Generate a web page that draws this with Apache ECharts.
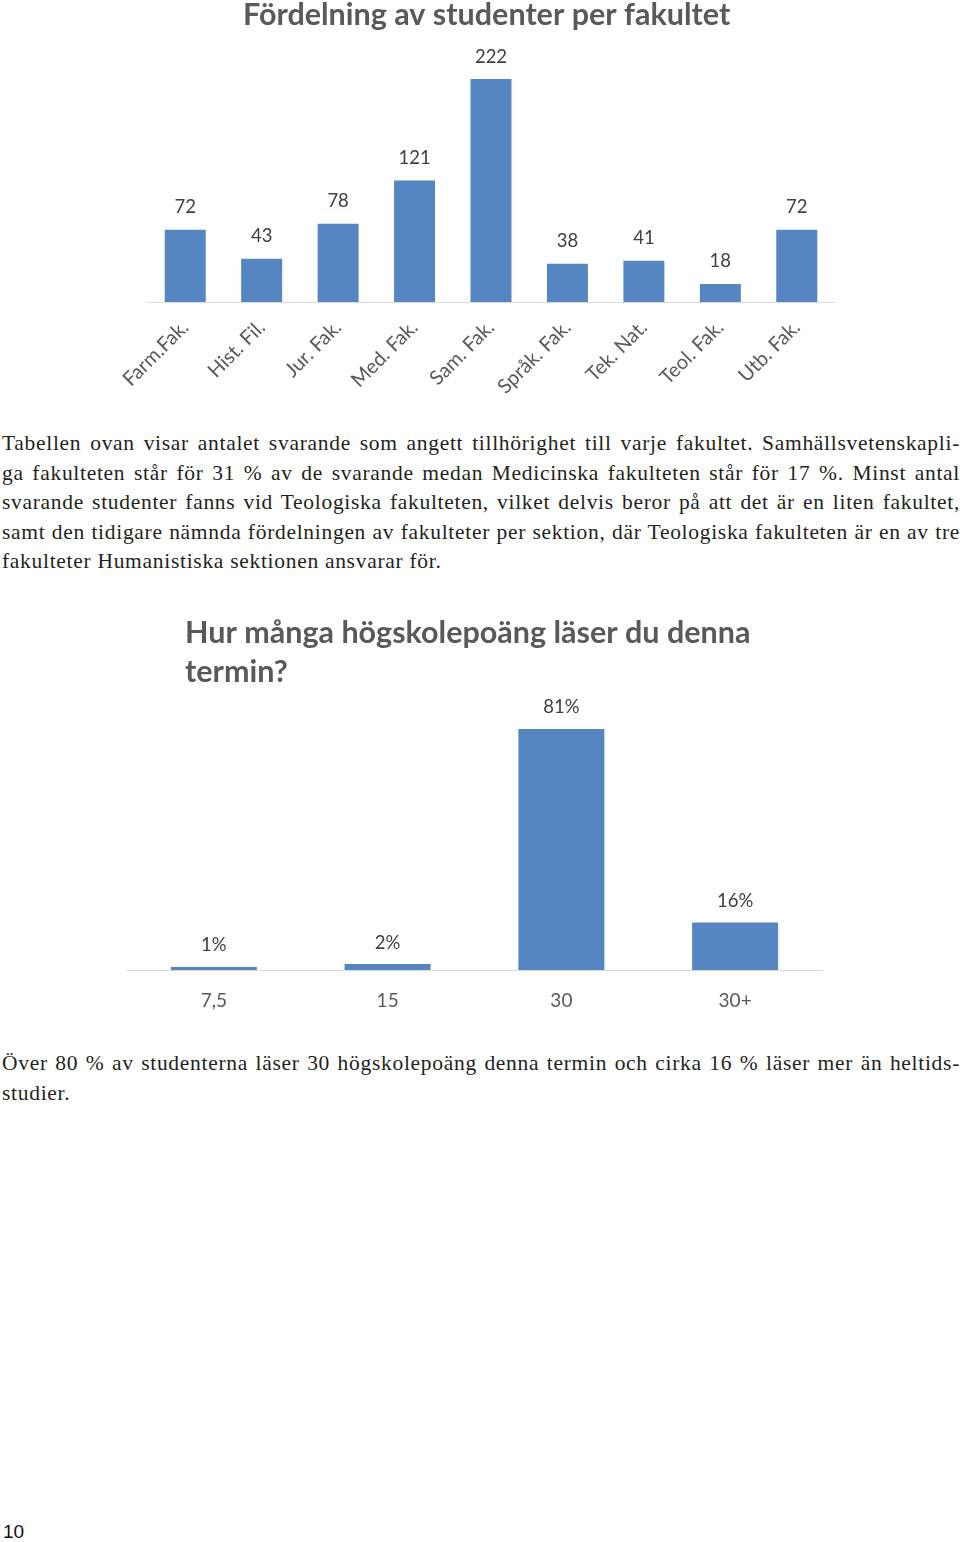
<!DOCTYPE html>
<html>
<head>
<meta charset="utf-8">
<script src="https://cdn.jsdelivr.net/npm/echarts@6/dist/echarts.min.js"></script>
<style>
  html, body { margin: 0; padding: 0; background: #fff; }
  body { width: 960px; height: 1542px; position: relative; overflow: hidden; }
  #c1 { position: absolute; left: 0; top: 0; width: 960px; height: 420px; }
  #c2 { position: absolute; left: 0; top: 600px; width: 960px; height: 430px; }
  .para { position: absolute; left: 2px; width: 958px; font-family: "Liberation Serif", "DejaVu Serif", serif;
          font-size: 21.5px; letter-spacing: 0.7px; word-spacing: -3px; line-height: 29.5px; color: #231f20; }
  .para div { text-align: justify; text-align-last: justify; }
  .para div.last { text-align-last: left; word-spacing: 0; }
  #p1 { top: 429px; }
  #p2 { top: 1049px; }
  #pg { position: absolute; left: 3px; top: 1521px; font-family: "Liberation Sans", Arial, sans-serif; font-size: 19px; color: #111; }
</style>
</head>
<body>
<div id="c1"></div>
<div class="para" id="p1">
  <div>Tabellen ovan visar antalet svarande som angett tillhörighet till varje fakultet. Samhällsvetenskapli-</div>
  <div>ga fakulteten står för 31 % av de svarande medan Medicinska fakulteten står för 17 %. Minst antal</div>
  <div>svarande studenter fanns vid Teologiska fakulteten, vilket delvis beror på att det är en liten fakultet,</div>
  <div>samt den tidigare nämnda fördelningen av fakulteter per sektion, där Teologiska fakulteten är en av tre</div>
  <div class="last">fakulteter Humanistiska sektionen ansvarar för.</div>
</div>
<div id="c2"></div>
<div class="para" id="p2">
  <div>Över 80 % av studenterna läser 30 högskolepoäng denna termin och cirka 16 % läser mer än heltids-</div>
  <div class="last">studier.</div>
</div>
<div id="pg">10</div>
<script>
const facultyTitle = 'Fördelning av studenter per fakultet';
const facultyCats = ['Farm.Fak.', 'Hist. Fil.', 'Jur. Fak.', 'Med. Fak.', 'Sam. Fak.', 'Språk. Fak.', 'Tek. Nat.', 'Teol. Fak.', 'Utb. Fak.'];
const facultyCounts = [72, 43, 78, 121, 222, 38, 41, 18, 72];

const creditTitle = 'Hur många högskolepoäng läser du denna\ntermin?';
const creditCats = ['7,5', '15', '30', '30+'];
const creditShares = [1, 2, 81, 16];

const BLUE = '#5586c1';
const FONT = 'Lato, "Open Sans", sans-serif';

const c1 = echarts.init(document.getElementById('c1'));
c1.setOption({
  animation: false,
  title: {
    text: facultyTitle, left: 238, top: -5,
    textStyle: { fontFamily: FONT, fontWeight: 'bold', fontSize: 30.5, color: '#595959' }
  },
  grid: { left: 147, right: 125, top: 51, bottom: 118, containLabel: false },
  xAxis: {
    type: 'category', data: facultyCats,
    axisLine: { lineStyle: { color: '#d9d9d9', width: 1 } },
    axisTick: { show: false },
    axisLabel: { rotate: 45, margin: 22, fontFamily: FONT, fontSize: 20, color: '#595959', interval: 0 }
  },
  yAxis: { type: 'value', min: 0, max: 250, show: false, splitLine: { show: false } },
  series: [{
    type: 'bar', data: facultyCounts, barWidth: 41,
    itemStyle: { color: BLUE },
    label: { show: true, position: 'top', distance: 13, fontFamily: FONT, fontSize: 18.5, color: '#404040' }
  }]
});

const c2 = echarts.init(document.getElementById('c2'));
c2.setOption({
  animation: false,
  title: {
    text: creditTitle, left: 180, top: 9,
    textStyle: { fontFamily: FONT, fontWeight: 'bold', fontSize: 30.5, lineHeight: 39, color: '#595959' }
  },
  grid: { left: 127, right: 138, top: 102.25, bottom: 60, containLabel: false },
  xAxis: {
    type: 'category', data: creditCats,
    axisLine: { lineStyle: { color: '#d9d9d9', width: 1 } },
    axisTick: { show: false },
    axisLabel: { margin: 21, fontFamily: FONT, fontSize: 19, color: '#595959' }
  },
  yAxis: { type: 'value', min: 0, max: 90, show: false, splitLine: { show: false } },
  series: [{
    type: 'bar', data: creditShares, barWidth: 86,
    itemStyle: { color: BLUE },
    label: { show: true, position: 'top', distance: 12, formatter: '{c}%', fontFamily: FONT, fontSize: 18.5, color: '#404040' }
  }]
});
</script>
</body>
</html>
